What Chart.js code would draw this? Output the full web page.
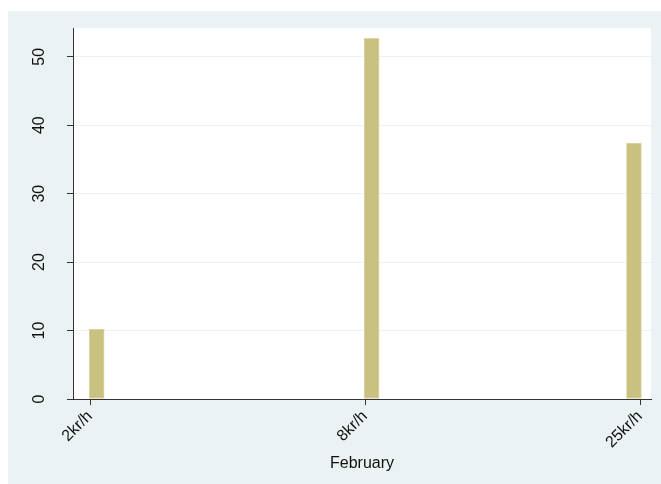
<!DOCTYPE html>
<html>
<head>
<meta charset="utf-8">
<script src="https://cdn.jsdelivr.net/npm/chart.js@4/dist/chart.umd.min.js"></script>
<style>
  html, body { margin: 0; padding: 0; background: #fff; }
  #wrap { width: 661px; height: 484px; }
</style>
</head>
<body>
<div id="wrap"><canvas id="barChart" width="661" height="484"></canvas></div>
<script>
// speed bands and the share observed in each
const categories = ['2kr/h', '8kr/h', '25kr/h'];
const barPositions = [0.024, 1.024, 1.978];
const values = [10.2, 52.7, 37.4];
const yTicks = [0, 10, 20, 30, 40, 50];
const xTitle = 'February';

const FONT = '"Liberation Sans", Arial, sans-serif';

// light panel behind the plot and the white plot region
const backdrop = {
    id: 'backdrop',
    beforeDraw(chart) {
        const ctx = chart.ctx;
        const area = chart.chartArea;
        ctx.save();
        ctx.fillStyle = '#eaf2f3';
        ctx.fillRect(8, 11, chart.width - 8, chart.height - 11);
        ctx.fillStyle = '#ffffff';
        ctx.fillRect(area.left, area.top, area.right - area.left, area.bottom - area.top);
        ctx.restore();
    }
};

// vertical tick labels on the left axis
const yLabels = {
    id: 'yLabels',
    afterDraw(chart) {
        const ctx = chart.ctx;
        const y = chart.scales.y;
        ctx.save();
        ctx.fillStyle = '#111';
        ctx.font = '16px ' + FONT;
        ctx.textAlign = 'center';
        ctx.textBaseline = 'middle';
        yTicks.forEach(v => {
            ctx.save();
            ctx.translate(40, y.getPixelForValue(v));
            ctx.rotate(-Math.PI / 2);
            ctx.fillText(String(v), 0, 0);
            ctx.restore();
        });
        ctx.restore();
    }
};

const ctx = document.getElementById('barChart').getContext('2d');
new Chart(ctx, {
    type: 'bar',
    data: {
        datasets: [{
            data: barPositions.map((x, i) => ({ x: x, y: values[i] })),
            backgroundColor: '#c9c17f',
            borderColor: '#ddd7aa',
            borderWidth: 1,
            borderSkipped: false,
            barThickness: 15
        }]
    },
    options: {
        responsive: false,
        animation: false,
        layout: { padding: { left: 8, top: 28, right: 10, bottom: 0 } },
        plugins: {
            legend: { display: false },
            tooltip: { enabled: false }
        },
        scales: {
            x: {
                type: 'linear',
                offset: false,
                min: -0.062,
                max: 2.04,
                afterBuildTicks(scale) {
                    scale.ticks = categories.map((c, i) => ({ value: i }));
                },
                afterFit(scale) { scale.height = 85; },
                ticks: {
                    minRotation: 45,
                    maxRotation: 45,
                    padding: 2,
                    color: '#111',
                    font: { family: FONT, size: 16 },
                    callback: (v) => categories[v]
                },
                grid: {
                    offset: false,
                    drawOnChartArea: false,
                    drawTicks: true,
                    tickLength: 6,
                    tickColor: '#333'
                },
                border: { color: '#333', width: 1 },
                title: {
                    display: true,
                    text: xTitle,
                    color: '#111',
                    font: { family: FONT, size: 16 },
                    padding: { top: 0, bottom: 11 }
                }
            },
            y: {
                min: 0,
                max: 54.2,
                afterBuildTicks(scale) {
                    scale.ticks = yTicks.map(v => ({ value: v }));
                },
                afterFit(scale) { scale.width = 65; },
                ticks: { display: false },
                grid: {
                    color: '#eaf2f3',
                    lineWidth: 1,
                    tickLength: 6,
                    tickColor: '#333'
                },
                border: { color: '#333', width: 1 }
            }
        }
    },
    plugins: [backdrop, yLabels]
});
</script>
</body>
</html>
